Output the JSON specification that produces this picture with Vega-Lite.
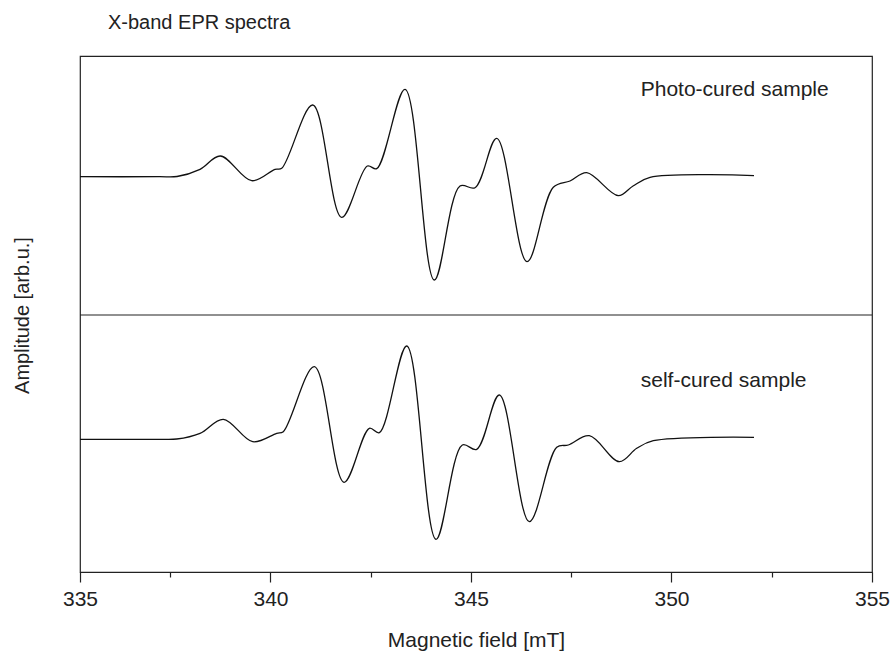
{
  "$schema": "https://vega.github.io/schema/vega-lite/v6.json",
  "width": 792,
  "height": 516,
  "autosize": {"type": "none"},
  "padding": {"left": 80, "top": 56, "right": 24, "bottom": 81},
  "background": "white",
  "title": {"text": "X-band EPR spectra", "anchor": "start", "frame": "group", "dx": 28, "offset": 23, "fontSize": 20, "fontWeight": "normal", "color": "#222", "font": "Liberation Sans"},
  "config": {
    "view": {"stroke": "#222", "strokeWidth": 1.2},
    "font": "Liberation Sans"
  },
  "datasets": {
    "photo": [
      {"field": 335.25, "amplitude": 0},
      {"field": 337.225, "amplitude": 0},
      {"field": 337.669, "amplitude": 0.2},
      {"field": 338.243, "amplitude": 7.4},
      {"field": 338.749, "amplitude": 20.7},
      {"field": 339.532, "amplitude": -4.0},
      {"field": 340.113, "amplitude": 7.4},
      {"field": 340.28, "amplitude": 8.4},
      {"field": 341.053, "amplitude": 71.7},
      {"field": 341.776, "amplitude": -40.6},
      {"field": 342.415, "amplitude": 10.7},
      {"field": 342.649, "amplitude": 8.0},
      {"field": 343.355, "amplitude": 87.4},
      {"field": 344.085, "amplitude": -103.3},
      {"field": 344.726, "amplitude": -9.3},
      {"field": 345.101, "amplitude": -11.0},
      {"field": 345.642, "amplitude": 38.4},
      {"field": 346.397, "amplitude": -85.0},
      {"field": 347.053, "amplitude": -10.6},
      {"field": 347.47, "amplitude": -4.3},
      {"field": 347.886, "amplitude": 4.0},
      {"field": 348.674, "amplitude": -19.0},
      {"field": 349.041, "amplitude": -9.3},
      {"field": 349.465, "amplitude": -0.6},
      {"field": 352.058, "amplitude": 1.0}
    ],
    "self": [
      {"field": 335.25, "amplitude": 0},
      {"field": 337.225, "amplitude": 0},
      {"field": 337.662, "amplitude": 0.3},
      {"field": 338.243, "amplitude": 6.0},
      {"field": 338.824, "amplitude": 20.0},
      {"field": 339.557, "amplitude": -2.4},
      {"field": 340.155, "amplitude": 6.0},
      {"field": 340.32, "amplitude": 7.6},
      {"field": 341.093, "amplitude": 72.6},
      {"field": 341.834, "amplitude": -43.0},
      {"field": 342.465, "amplitude": 11.0},
      {"field": 342.714, "amplitude": 6.6},
      {"field": 343.397, "amplitude": 93.3},
      {"field": 344.128, "amplitude": -100.0},
      {"field": 344.784, "amplitude": -5.7},
      {"field": 345.143, "amplitude": -10.0},
      {"field": 345.707, "amplitude": 44.3},
      {"field": 346.455, "amplitude": -82.4},
      {"field": 347.138, "amplitude": -8.0},
      {"field": 347.427, "amplitude": -5.7},
      {"field": 347.951, "amplitude": 3.6},
      {"field": 348.699, "amplitude": -22.4},
      {"field": 349.133, "amplitude": -9.0},
      {"field": 349.547, "amplitude": -1.4},
      {"field": 352.058, "amplitude": 2.0}
    ]
  },
  "layer": [
    {
      "layer": [
        {
          "data": {"name": "photo"},
          "mark": {"type": "line", "interpolate": "catmull-rom", "color": "#111", "strokeWidth": 1.3},
          "encoding": {
            "x": {
              "field": "field", "type": "quantitative",
              "scale": {"domain": [335.25, 355], "nice": false, "zero": false},
              "axis": {
                "values": [335.25, 337.5, 340, 342.5, 345, 347.5, 350, 352.5, 355],
                "labelExpr": "(datum.value % 5 === 2.5) ? '' : format(datum.value, 'd')",
                "tickSize": {"condition": {"test": "datum.value % 5 === 2.5", "value": 5}, "value": 10},
                "tickColor": "#222", "tickWidth": 1.2,
                "domainColor": "#222", "domainWidth": 1.2,
                "grid": false,
                "labelFont": "Liberation Sans", "labelFontSize": 21, "labelColor": "#222",
                "labelPadding": 6, "labelFlush": false, "labelOverlap": false,
                "title": "Magnetic field [mT]", "titleFont": "Liberation Sans", "titleFontSize": 21,
                "titleFontWeight": "normal", "titleColor": "#222", "titlePadding": 20
              }
            },
            "y": {
              "field": "amplitude", "type": "quantitative",
              "scale": {"domain": [-395.3, 120.7], "nice": false, "zero": false},
              "axis": {
                "domain": false, "ticks": false, "labels": false, "grid": false,
                "title": "Amplitude [arb.u.]", "titleFont": "Liberation Sans", "titleFontSize": 20,
                "titleFontWeight": "normal", "titleColor": "#222",
                "titleX": -58, "titleY": 259, "titleAngle": -90, "titleAlign": "center", "titleBaseline": "middle"
              }
            }
          }
        },
        {
          "data": {"values": [{"amplitude": -138.3}]},
          "mark": {"type": "rule", "color": "#222", "strokeWidth": 1.2},
          "encoding": {"y": {"field": "amplitude", "type": "quantitative"}}
        },
        {
          "data": {"values": [{"field": 349.233, "amplitude": 80.7, "label": "Photo-cured sample"}]},
          "mark": {"type": "text", "align": "left", "baseline": "alphabetic", "fontSize": 21, "color": "#222", "font": "Liberation Sans"},
          "encoding": {
            "x": {"field": "field", "type": "quantitative"},
            "y": {"field": "amplitude", "type": "quantitative"},
            "text": {"field": "label"}
          }
        }
      ]
    },
    {
      "layer": [
        {
          "data": {"name": "self"},
          "mark": {"type": "line", "interpolate": "catmull-rom", "color": "#111", "strokeWidth": 1.3},
          "encoding": {
            "x": {"field": "field", "type": "quantitative"},
            "y": {
              "field": "amplitude", "type": "quantitative",
              "scale": {"domain": [-132.7, 383.3], "nice": false, "zero": false},
              "axis": null
            }
          }
        },
        {
          "data": {"values": [{"field": 349.233, "amplitude": 52.6, "label": "self-cured sample"}]},
          "mark": {"type": "text", "align": "left", "baseline": "alphabetic", "fontSize": 21, "color": "#222", "font": "Liberation Sans"},
          "encoding": {
            "x": {"field": "field", "type": "quantitative"},
            "y": {"field": "amplitude", "type": "quantitative", "axis": null},
            "text": {"field": "label"}
          }
        }
      ]
    }
  ],
  "resolve": {"scale": {"y": "independent"}}
}
